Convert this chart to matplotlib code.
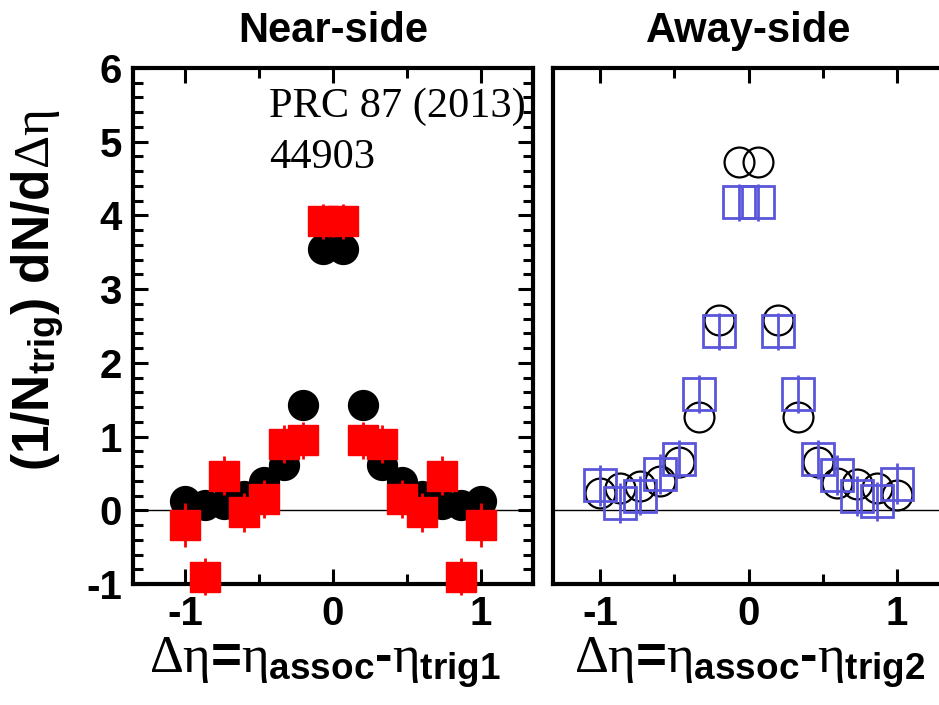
import numpy as np
import matplotlib
matplotlib.use('Agg')
import matplotlib.pyplot as plt
from matplotlib.ticker import MultipleLocator

plt.rcParams['font.family'] = 'Liberation Sans'
plt.rcParams['font.weight'] = 'bold'
plt.rcParams['axes.labelweight'] = 'bold'
plt.rcParams['axes.unicode_minus'] = False
plt.rcParams['mathtext.fontset'] = 'custom'
plt.rcParams['mathtext.rm'] = 'Liberation Serif:weight=normal'
plt.rcParams['mathtext.it'] = 'Liberation Serif:weight=normal'
plt.rcParams['mathtext.bf'] = 'Liberation Sans:weight=bold'

# Delta-eta bin centres
deta = [-1.0, -0.867, -0.733, -0.6, -0.467, -0.333, -0.2, -0.067,
        0.067, 0.2, 0.333, 0.467, 0.6, 0.733, 0.867, 1.0]

# near-side (trig1)
near_black = [0.13, 0.07, 0.08, 0.2, 0.38, 0.62, 1.43, 3.55,
              3.55, 1.43, 0.62, 0.38, 0.2, 0.08, 0.07, 0.13]
near_red = [-0.2, -0.9, 0.47, -0.03, 0.15, 0.9, 0.95, 3.92,
            3.92, 0.95, 0.9, 0.15, -0.03, 0.47, -0.9, -0.2]
near_red_err = [0.3, 0.25, 0.26, 0.27, 0.26, 0.26, 0.25, 0.24,
                0.24, 0.25, 0.26, 0.26, 0.27, 0.26, 0.25, 0.3]

# away-side (trig2)
away_black = [0.23, 0.3, 0.33, 0.4, 0.66, 1.27, 2.58, 4.72,
              4.72, 2.58, 1.27, 0.65, 0.37, 0.35, 0.3, 0.21]
away_blue = [0.34, 0.1, 0.2, 0.49, 0.7, 1.58, 2.43, 4.18,
             4.18, 2.43, 1.58, 0.69, 0.48, 0.19, 0.12, 0.36]
away_blue_err = [0.28, 0.27, 0.27, 0.27, 0.26, 0.26, 0.25, 0.25,
                 0.25, 0.25, 0.26, 0.26, 0.27, 0.27, 0.27, 0.28]

blue = '#5b56d9'
W, H = 939., 705.

fig = plt.figure(figsize=(W/100, H/100), dpi=100)
ax1 = fig.add_axes([133/W, (H-584)/H, 400/W, 516/H])
ax2 = fig.add_axes([553/W, (H-584)/H, 391/W, 516/H])

for ax in (ax1, ax2):
    ax.axhline(0, color='black', lw=1.0, zorder=1)
    ax.set_ylim(-1, 6)
    ax.xaxis.set_major_locator(MultipleLocator(1))
    ax.xaxis.set_minor_locator(MultipleLocator(0.5))
    ax.tick_params(which='both', direction='in', top=True, width=2.2,
                   labelsize=29)
    ax.tick_params(which='major', length=11)
    ax.tick_params(which='minor', length=7)
    ax.tick_params(axis='x', pad=8)
    for s in ax.spines.values():
        s.set_linewidth(3)

ax1.set_xlim(-1.35, 1.35)
ax2.set_xlim(-1.32, 1.32)

ax1.yaxis.set_major_locator(MultipleLocator(1))
ax1.yaxis.set_minor_locator(MultipleLocator(0.2))
ax1.tick_params(axis='y', which='both', right=True, pad=8)
ax2.tick_params(axis='y', which='both', left=False, right=False,
                labelleft=False)

# near side
ax1.plot(deta, near_black, 'o', color='black', ms=21.5, zorder=3,
         clip_on=False)
ax1.errorbar(deta, near_red, yerr=near_red_err, fmt='s', color='red',
             ms=21.5, elinewidth=2, capsize=0, zorder=4, clip_on=False)

# away side
ax2.plot(deta, away_black, 'o', mfc='none', mec='black', mew=1.6,
         ms=21.5, zorder=3, clip_on=False)
ax2.errorbar(deta, away_blue, yerr=away_blue_err, fmt='s', mfc='none',
             mec=blue, mew=2.0, ecolor=blue, elinewidth=2.0, ms=23,
             capsize=0, zorder=4, clip_on=False)

ax1.text(-0.43, 5.33, 'PRC 87 (2013)', fontfamily='Liberation Serif',
         fontweight='normal', fontsize=30.5, va='baseline')
ax1.text(-0.43, 4.65, '44903', fontfamily='Liberation Serif',
         fontweight='normal', fontsize=30.5, va='baseline')

ax1.set_title('Near-side', fontsize=30, fontweight='bold', pad=19)
ax2.set_title('Away-side', fontsize=30, fontweight='bold', pad=19)

ax1.set_ylabel(r'(1/N$_{\mathbf{trig}}$) dN/d$\Delta\eta$', fontsize=37,
               fontweight='bold')
ax1.yaxis.set_label_coords(-0.165, 0.57)

ax1.set_xlabel(r'$\Delta\eta$=$\eta_{\mathbf{assoc}}$-$\eta_{\mathbf{trig1}}$',
               fontsize=38, fontweight='bold')
ax2.set_xlabel(r'$\Delta\eta$=$\eta_{\mathbf{assoc}}$-$\eta_{\mathbf{trig2}}$',
               fontsize=38, fontweight='bold')
ax1.xaxis.set_label_coords(0.48, -0.1)
ax2.xaxis.set_label_coords(0.504, -0.1)

fig.savefig('out.png', dpi=100)
plt.close()
